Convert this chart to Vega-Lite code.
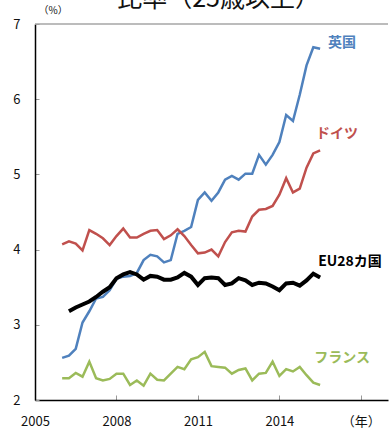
{
  "$schema": "https://vega.github.io/schema/vega-lite/v6.json",
  "width": 353,
  "height": 376,
  "autosize": {"type": "none"},
  "padding": {"left": 35, "top": 24, "right": 1, "bottom": 28},
  "background": "white",
  "config": {"view": {"stroke": null}, "font": "Noto Sans CJK JP"},
  "title": {"text": "比率（25歳以上）", "fontSize": 25, "fontWeight": "normal", "font": "Noto Sans CJK JP", "color": "#111", "anchor": "middle", "frame": "group", "dx": 7, "offset": -19, "baseline": "middle"},
  "datasets": {
    "series": [
      {"s":"英国","t":2006.00,"v":2.56},{"s":"英国","t":2006.25,"v":2.59},{"s":"英国","t":2006.50,"v":2.68},{"s":"英国","t":2006.75,"v":3.03},
      {"s":"英国","t":2007.00,"v":3.18},{"s":"英国","t":2007.25,"v":3.35},{"s":"英国","t":2007.50,"v":3.37},{"s":"英国","t":2007.75,"v":3.46},
      {"s":"英国","t":2008.00,"v":3.61},{"s":"英国","t":2008.25,"v":3.64},{"s":"英国","t":2008.50,"v":3.65},{"s":"英国","t":2008.75,"v":3.69},
      {"s":"英国","t":2009.00,"v":3.86},{"s":"英国","t":2009.25,"v":3.93},{"s":"英国","t":2009.50,"v":3.91},{"s":"英国","t":2009.75,"v":3.83},
      {"s":"英国","t":2010.00,"v":3.86},{"s":"英国","t":2010.25,"v":4.21},{"s":"英国","t":2010.50,"v":4.25},{"s":"英国","t":2010.75,"v":4.30},
      {"s":"英国","t":2011.00,"v":4.66},{"s":"英国","t":2011.25,"v":4.76},{"s":"英国","t":2011.50,"v":4.65},{"s":"英国","t":2011.75,"v":4.76},
      {"s":"英国","t":2012.00,"v":4.93},{"s":"英国","t":2012.25,"v":4.98},{"s":"英国","t":2012.50,"v":4.93},{"s":"英国","t":2012.75,"v":5.01},
      {"s":"英国","t":2013.00,"v":5.01},{"s":"英国","t":2013.25,"v":5.26},{"s":"英国","t":2013.50,"v":5.13},{"s":"英国","t":2013.75,"v":5.26},
      {"s":"英国","t":2014.00,"v":5.43},{"s":"英国","t":2014.25,"v":5.79},{"s":"英国","t":2014.50,"v":5.71},{"s":"英国","t":2014.75,"v":6.06},
      {"s":"英国","t":2015.00,"v":6.45},{"s":"英国","t":2015.25,"v":6.69},{"s":"英国","t":2015.50,"v":6.67},

      {"s":"ドイツ","t":2006.00,"v":4.07},{"s":"ドイツ","t":2006.25,"v":4.11},{"s":"ドイツ","t":2006.50,"v":4.08},{"s":"ドイツ","t":2006.75,"v":3.99},
      {"s":"ドイツ","t":2007.00,"v":4.26},{"s":"ドイツ","t":2007.25,"v":4.21},{"s":"ドイツ","t":2007.50,"v":4.15},{"s":"ドイツ","t":2007.75,"v":4.06},
      {"s":"ドイツ","t":2008.00,"v":4.18},{"s":"ドイツ","t":2008.25,"v":4.28},{"s":"ドイツ","t":2008.50,"v":4.16},{"s":"ドイツ","t":2008.75,"v":4.16},
      {"s":"ドイツ","t":2009.00,"v":4.21},{"s":"ドイツ","t":2009.25,"v":4.25},{"s":"ドイツ","t":2009.50,"v":4.26},{"s":"ドイツ","t":2009.75,"v":4.14},
      {"s":"ドイツ","t":2010.00,"v":4.19},{"s":"ドイツ","t":2010.25,"v":4.27},{"s":"ドイツ","t":2010.50,"v":4.18},{"s":"ドイツ","t":2010.75,"v":4.06},
      {"s":"ドイツ","t":2011.00,"v":3.95},{"s":"ドイツ","t":2011.25,"v":3.96},{"s":"ドイツ","t":2011.50,"v":4.00},{"s":"ドイツ","t":2011.75,"v":3.91},
      {"s":"ドイツ","t":2012.00,"v":4.10},{"s":"ドイツ","t":2012.25,"v":4.23},{"s":"ドイツ","t":2012.50,"v":4.25},{"s":"ドイツ","t":2012.75,"v":4.24},
      {"s":"ドイツ","t":2013.00,"v":4.44},{"s":"ドイツ","t":2013.25,"v":4.53},{"s":"ドイツ","t":2013.50,"v":4.54},{"s":"ドイツ","t":2013.75,"v":4.58},
      {"s":"ドイツ","t":2014.00,"v":4.73},{"s":"ドイツ","t":2014.25,"v":4.95},{"s":"ドイツ","t":2014.50,"v":4.76},{"s":"ドイツ","t":2014.75,"v":4.81},
      {"s":"ドイツ","t":2015.00,"v":5.09},{"s":"ドイツ","t":2015.25,"v":5.28},{"s":"ドイツ","t":2015.50,"v":5.32},

      {"s":"フランス","t":2006.00,"v":2.29},{"s":"フランス","t":2006.25,"v":2.29},{"s":"フランス","t":2006.50,"v":2.36},{"s":"フランス","t":2006.75,"v":2.31},
      {"s":"フランス","t":2007.00,"v":2.51},{"s":"フランス","t":2007.25,"v":2.29},{"s":"フランス","t":2007.50,"v":2.26},{"s":"フランス","t":2007.75,"v":2.28},
      {"s":"フランス","t":2008.00,"v":2.35},{"s":"フランス","t":2008.25,"v":2.35},{"s":"フランス","t":2008.50,"v":2.20},{"s":"フランス","t":2008.75,"v":2.26},
      {"s":"フランス","t":2009.00,"v":2.19},{"s":"フランス","t":2009.25,"v":2.35},{"s":"フランス","t":2009.50,"v":2.27},{"s":"フランス","t":2009.75,"v":2.26},
      {"s":"フランス","t":2010.00,"v":2.35},{"s":"フランス","t":2010.25,"v":2.44},{"s":"フランス","t":2010.50,"v":2.41},{"s":"フランス","t":2010.75,"v":2.54},
      {"s":"フランス","t":2011.00,"v":2.57},{"s":"フランス","t":2011.25,"v":2.64},{"s":"フランス","t":2011.50,"v":2.45},{"s":"フランス","t":2011.75,"v":2.44},
      {"s":"フランス","t":2012.00,"v":2.43},{"s":"フランス","t":2012.25,"v":2.35},{"s":"フランス","t":2012.50,"v":2.40},{"s":"フランス","t":2012.75,"v":2.42},
      {"s":"フランス","t":2013.00,"v":2.26},{"s":"フランス","t":2013.25,"v":2.35},{"s":"フランス","t":2013.50,"v":2.36},{"s":"フランス","t":2013.75,"v":2.51},
      {"s":"フランス","t":2014.00,"v":2.32},{"s":"フランス","t":2014.25,"v":2.41},{"s":"フランス","t":2014.50,"v":2.38},{"s":"フランス","t":2014.75,"v":2.44},
      {"s":"フランス","t":2015.00,"v":2.33},{"s":"フランス","t":2015.25,"v":2.23},{"s":"フランス","t":2015.50,"v":2.20},

      {"s":"EU28カ国","t":2006.25,"v":3.18},{"s":"EU28カ国","t":2006.50,"v":3.23},{"s":"EU28カ国","t":2006.75,"v":3.27},
      {"s":"EU28カ国","t":2007.00,"v":3.31},{"s":"EU28カ国","t":2007.25,"v":3.37},{"s":"EU28カ国","t":2007.50,"v":3.44},{"s":"EU28カ国","t":2007.75,"v":3.50},
      {"s":"EU28カ国","t":2008.00,"v":3.62},{"s":"EU28カ国","t":2008.25,"v":3.67},{"s":"EU28カ国","t":2008.50,"v":3.70},{"s":"EU28カ国","t":2008.75,"v":3.67},
      {"s":"EU28カ国","t":2009.00,"v":3.60},{"s":"EU28カ国","t":2009.25,"v":3.65},{"s":"EU28カ国","t":2009.50,"v":3.64},{"s":"EU28カ国","t":2009.75,"v":3.60},
      {"s":"EU28カ国","t":2010.00,"v":3.60},{"s":"EU28カ国","t":2010.25,"v":3.63},{"s":"EU28カ国","t":2010.50,"v":3.69},{"s":"EU28カ国","t":2010.75,"v":3.64},
      {"s":"EU28カ国","t":2011.00,"v":3.53},{"s":"EU28カ国","t":2011.25,"v":3.62},{"s":"EU28カ国","t":2011.50,"v":3.63},{"s":"EU28カ国","t":2011.75,"v":3.62},
      {"s":"EU28カ国","t":2012.00,"v":3.53},{"s":"EU28カ国","t":2012.25,"v":3.55},{"s":"EU28カ国","t":2012.50,"v":3.62},{"s":"EU28カ国","t":2012.75,"v":3.59},
      {"s":"EU28カ国","t":2013.00,"v":3.53},{"s":"EU28カ国","t":2013.25,"v":3.56},{"s":"EU28カ国","t":2013.50,"v":3.55},{"s":"EU28カ国","t":2013.75,"v":3.51},
      {"s":"EU28カ国","t":2014.00,"v":3.46},{"s":"EU28カ国","t":2014.25,"v":3.55},{"s":"EU28カ国","t":2014.50,"v":3.56},{"s":"EU28カ国","t":2014.75,"v":3.52},
      {"s":"EU28カ国","t":2015.00,"v":3.59},{"s":"EU28カ国","t":2015.25,"v":3.68},{"s":"EU28カ国","t":2015.50,"v":3.63}
    ],
    "labels": [
      {"s":"英国","t":2016.31,"v":6.75},
      {"s":"ドイツ","t":2016.12,"v":5.54},
      {"s":"EU28カ国","t":2016.6,"v":3.83},
      {"s":"フランス","t":2016.31,"v":2.56}
    ]
  },
  "layer": [
    {
      "data": {"values": [{"v": 7}]},
      "mark": {"type": "rule", "color": "#a6a6a6", "strokeWidth": 1.5},
      "encoding": {"y": {"field": "v", "type": "quantitative", "scale": {"domain": [2, 7], "nice": false, "zero": false}}}
    },
    {
      "data": {"name": "series"},
      "transform": [{"filter": "datum.s != 'EU28カ国'"}],
      "mark": {"type": "line", "strokeWidth": 2.5},
      "encoding": {
        "x": {"field": "t", "type": "quantitative", "scale": {"domain": [2005, 2018], "nice": false, "zero": false},
          "axis": {"values": [2005, 2008, 2011, 2014, 2017], "format": "d", "labelExpr": "datum.value == 2017 ? '（年）' : datum.label", "grid": false, "title": null, "domainColor": "#000", "domainWidth": 1.5, "tickColor": "#999", "tickSize": -5, "tickWidth": 1, "labelFontSize": 13, "labelColor": "#111", "labelPadding": 20, "labelFlush": false}},
        "y": {"field": "v", "type": "quantitative", "scale": {"domain": [2, 7], "nice": false, "zero": false},
          "axis": {"values": [2, 3, 4, 5, 6, 7], "format": "d", "grid": false, "title": "（%）", "titleAngle": 0, "titleX": 3, "titleY": -14, "titleAlign": "left", "titleBaseline": "middle", "titleFontSize": 10, "titleFontWeight": "normal", "titleColor": "#111", "domainColor": "#000", "domainWidth": 1.5, "tickColor": "#999", "tickSize": -4, "tickWidth": 1, "labelFontSize": 13, "labelColor": "#111", "labelPadding": 19}},
        "color": {"field": "s", "type": "nominal", "scale": {"domain": ["英国", "ドイツ", "EU28カ国", "フランス"], "range": ["#4F81BD", "#C0504D", "#000000", "#9BBB59"]}, "legend": null},
        "detail": {"field": "s"}
      }
    },
    {
      "data": {"name": "series"},
      "transform": [{"filter": "datum.s == 'EU28カ国'"}],
      "mark": {"type": "line", "strokeWidth": 4, "color": "#000"},
      "encoding": {
        "x": {"field": "t", "type": "quantitative"},
        "y": {"field": "v", "type": "quantitative"}
      }
    },
    {
      "data": {"name": "labels"},
      "mark": {"type": "text", "fontSize": 14, "fontWeight": "bold", "font": "Noto Sans CJK JP", "align": "center", "baseline": "middle"},
      "encoding": {
        "x": {"field": "t", "type": "quantitative"},
        "y": {"field": "v", "type": "quantitative"},
        "text": {"field": "s"},
        "color": {"field": "s", "type": "nominal", "legend": null}
      }
    }
  ]
}
